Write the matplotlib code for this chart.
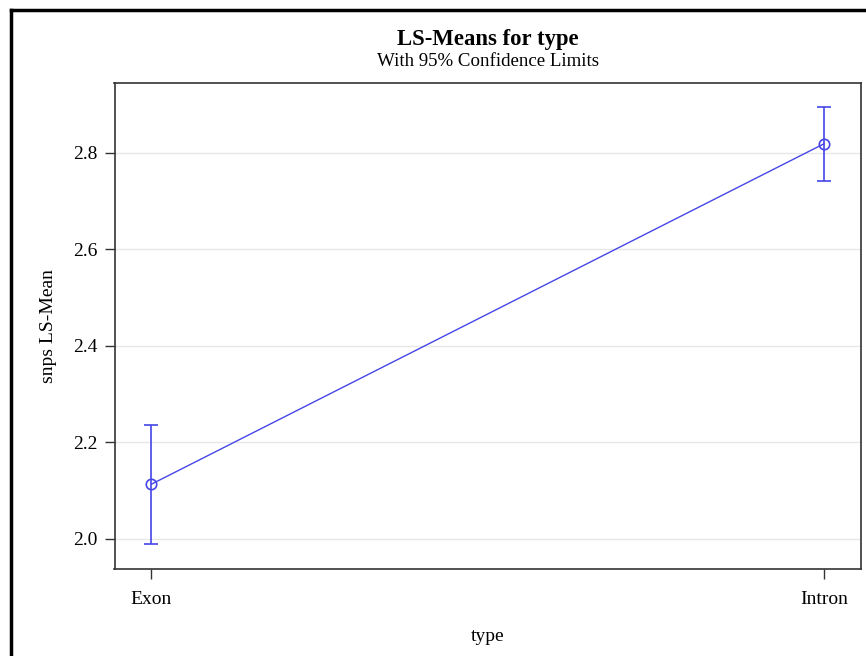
import numpy as np
import matplotlib
matplotlib.use('Agg')
import matplotlib.pyplot as plt
from matplotlib.lines import Line2D

plt.rcParams['font.family'] = ['Liberation Serif', 'DejaVu Serif']

# dane
types = ['Exon', 'Intron']
ls_mean = [2.113, 2.819]
lower = [1.988, 2.742]
upper = [2.236, 2.895]
yticks = [2.0, 2.2, 2.4, 2.6, 2.8]

col = '#4646E8'

fig = plt.figure(figsize=(8.66, 6.56), dpi=100)
ax = fig.add_axes([114.5 / 866, 1 - 569 / 656, (861 - 114.5) / 866, (569 - 83) / 656])

x = np.arange(len(types))
yerr = [np.array(ls_mean) - np.array(lower), np.array(upper) - np.array(ls_mean)]

ax.plot(x, ls_mean, color=col, lw=1.0, zorder=3)
ax.errorbar(x, ls_mean, yerr=yerr, fmt='o', mfc='none', mec=col, ms=7.5, mew=1.2,
            ecolor=col, elinewidth=1.2, capsize=4.7, capthick=1.2, zorder=4)

ax.set_xlim(-0.055, 1.055)
ax.set_ylim(1.937, 2.945)
ax.set_xticks(x)
ax.set_xticklabels(types)
ax.set_yticks(yticks)
ax.set_yticklabels([f'{v:.1f}' for v in yticks])
ax.grid(axis='y', color='#E8E8E8', lw=1.0, zorder=0)
ax.set_axisbelow(True)

for s in ax.spines.values():
    s.set_color('#333333')
    s.set_linewidth(1.2)
ax.tick_params(direction='out', length=7, width=1.0, color='#333333', labelsize=14)
ax.tick_params(axis='y', pad=5)
ax.tick_params(axis='x', pad=9)

ax.set_xlabel('type', fontsize=14, labelpad=14)
ax.set_ylabel('snps LS-Mean', fontsize=14, labelpad=12)

fig.text(487.7 / 866, 1 - 39 / 656, 'LS-Means for type', ha='center', va='center',
         fontsize=16.4, fontweight='bold')
fig.text(487.7 / 866, 1 - 62 / 656, 'With 95% Confidence Limits', ha='center', va='center',
         fontsize=13.6)

# ramka wokol calego rysunku (widoczna tylko lewa i gorna krawedz)
fig.add_artist(Line2D([11 / 866, 11 / 866], [0, 1 - 10 / 656], color='black', lw=2.5,
                      transform=fig.transFigure))
fig.add_artist(Line2D([11 / 866, 1], [1 - 10 / 656, 1 - 10 / 656], color='black', lw=2.5,
                      transform=fig.transFigure))

fig.savefig('out.png', dpi=100)
